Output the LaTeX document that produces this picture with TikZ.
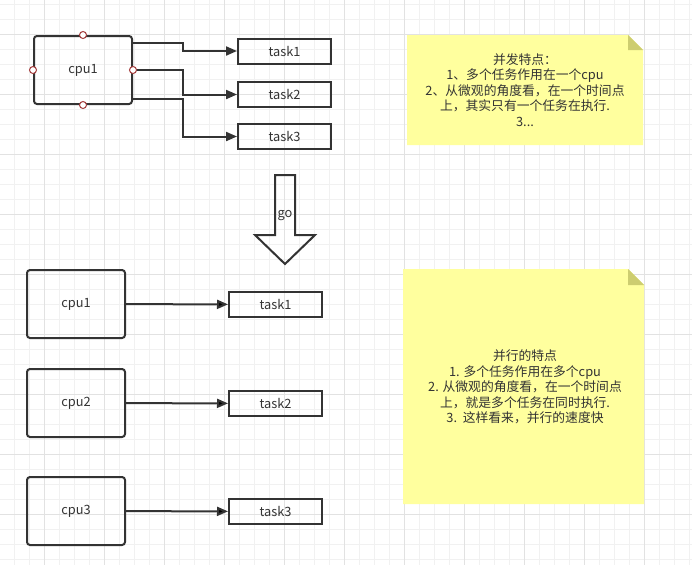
\documentclass[tikz,border=0pt]{standalone}
\usepackage{fontspec}
\setmainfont{Noto Sans CJK SC}
\usetikzlibrary{arrows.meta}

\definecolor{ink}{HTML}{333333}
\definecolor{gridminor}{HTML}{F1F1F1}
\definecolor{gridmajor}{HTML}{E2E2E2}
\definecolor{notefill}{HTML}{FFFF9E}
\definecolor{notefold}{HTML}{CDCD70}
\definecolor{pinred}{HTML}{A33A3A}

\tikzset{
  cpubox/.style={draw=ink, line width=2pt, rounded corners=3pt, minimum width=98pt, minimum height=68pt},
  taskbox/.style={draw=ink, line width=2pt, minimum width=93pt, minimum height=25pt},
  flow/.style={draw=ink, line width=2pt, -{Triangle[length=11pt,width=9pt]}},
  pin/.style={circle, draw=pinred, fill=white, line width=1pt, inner sep=0pt, minimum size=7pt},
  notetext/.style={align=center, text=ink, font=\fontsize{12.8}{15.6}\selectfont}
}

\begin{document}
\begin{tikzpicture}[x=1pt, y=-1pt, every node/.style={text=ink, font=\fontsize{12.8}{15}\selectfont}]
			\useasboundingbox (0,0) rectangle (692,565);
			\fill[white] (0,0) rectangle (692,565);
			% grid
			\foreach \gx in {14.5,29.5,...,692} \draw[gridminor, line width=1pt] (\gx,0) -- (\gx,565);
			\foreach \gy in {4,19,...,565} \draw[gridminor, line width=1pt] (0,\gy) -- (692,\gy);
			\foreach \gx in {44.5,104.5,...,692} \draw[gridmajor, line width=1pt] (\gx,0) -- (\gx,565);
			\foreach \gy in {34,94,...,565} \draw[gridmajor, line width=1pt] (0,\gy) -- (692,\gy);
			
			% concurrent
			\node[cpubox] (ca) at (83,70){cpu1};
			\node[taskbox] (ta1) at (284.5,51){task1};
			\node[taskbox] (ta2) at (284.5,94.5){task2};
			\node[taskbox] (ta3) at (284.5,136.5){task3};
			
			\draw[flow] ([yshift=27pt]ca.east) -- ++(50,0) |- (ta1.west);
			\draw[flow] (ca.east) -- ++(50,0) |- (ta2.west);
			\draw[flow] ([yshift=-29pt]ca.east) -- ++(50,0) |- (ta3.west);
			
			\node[pin] at (ca.north){};
			\node[pin] at (ca.south){};
			\node[pin] at (ca.west){};
			\node[pin] at (ca.east){};
			
			% go arrow
			\draw[ink, line width=2pt, line join=miter] (275,175) -- (295,175) -- (295,235) -- (315,235) -- (285,264) -- (255,235) -- (275,235) -- cycle;
			\node (go) at (285,216){go};
			
			% parallel
			\node[cpubox] (pa) at (76,304){cpu1};
			\node[cpubox] (pb) at (76,403){cpu2};
			\node[cpubox] (pc) at (76,511){cpu3};
			\node[taskbox] (tb1) at (275.5,304.5){task1};
			\node[taskbox] (tb2) at (275.5,403.5){task2};
			\node[taskbox] (tb3) at (275.5,511.5){task3};
			
			\path[flow] (pa) edge (tb1);
			\path[flow] (pb) edge (tb2);
			\path[flow] (pc) edge (tb3);
			
			% notes
			\fill[notefill] (407,35) -- (628,35) -- (643,50) -- (643,145) -- (407,145) -- cycle;
			\fill[notefold] (628,35) -- (643,50) -- (628,50) -- cycle;
			\node[notetext] (noteA) at (525,90){并发特点：\\1、多个任务作用在一个cpu\\2、从微观的角度看，在一个时间点\\上，其实只有一个任务在执行.\\3...};
			
			\fill[notefill] (403,269) -- (628,269) -- (644,285) -- (644,504) -- (403,504) -- cycle;
			\fill[notefold] (628,269) -- (644,285) -- (628,285) -- cycle;
			\node[notetext] (noteB) at (525,387){并行的特点\\1. 多个任务作用在多个cpu\\2. 从微观的角度看，在一个时间点\\上，就是多个任务在同时执行.\\3.~~这样看来，并行的速度快};
			\end{tikzpicture}
\end{document}
